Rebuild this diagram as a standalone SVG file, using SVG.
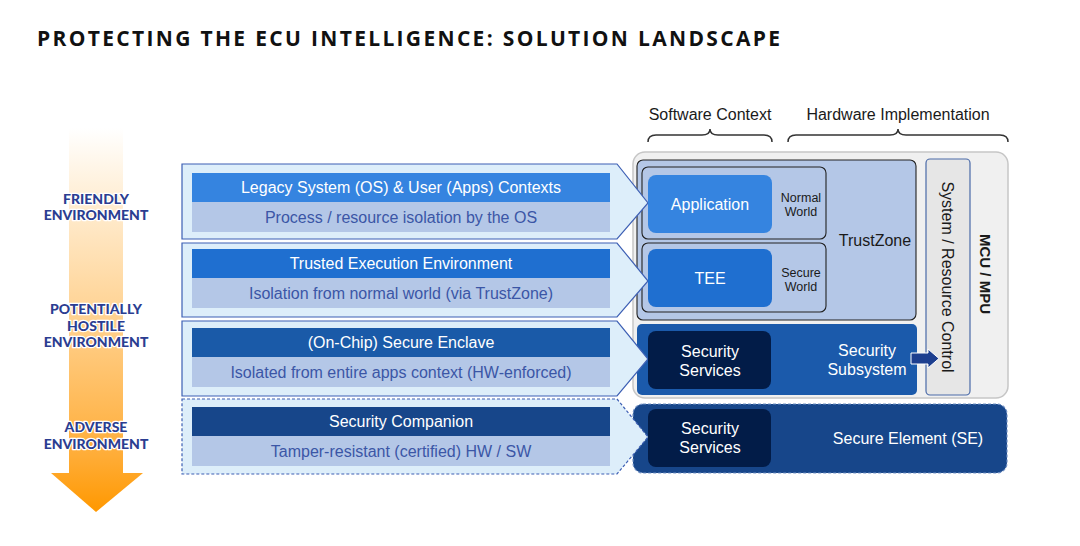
<svg xmlns="http://www.w3.org/2000/svg" width="1080" height="546" viewBox="0 0 1080 546">
<defs>
<linearGradient id="og" gradientUnits="userSpaceOnUse" x1="0" y1="128" x2="0" y2="512">
<stop offset="0" stop-color="#ffffff"/>
<stop offset="0.15" stop-color="#fff1dc"/>
<stop offset="0.5" stop-color="#ffd18f"/>
<stop offset="0.85" stop-color="#ffad38"/>
<stop offset="1" stop-color="#ff9800"/>
</linearGradient>
</defs>
<style>
.t{font-family:"Liberation Sans",Arial,sans-serif}
.env{font-family:Lato,"Open Sans",sans-serif;font-weight:900;font-size:14px;fill:#2b3d91;text-anchor:middle;stroke:#ffffff;stroke-width:2.5px;paint-order:stroke;stroke-linejoin:round}
.call{fill:#ddeefa;stroke:#3d5fb4;stroke-width:1.2}
.dash{stroke-dasharray:3 2}
.sub{fill:#b4c7e7}
.hd{font-size:16px;fill:#ffffff;text-anchor:middle}
.sd{font-size:16px;fill:#3b56a6;text-anchor:middle}
.wt{font-size:16px;fill:#ffffff;text-anchor:middle}
.world{fill:#b4c7e7;stroke:#222222;stroke-width:1.1}
.sm{font-size:12.5px;fill:#1a1a1a;text-anchor:middle}
.dark{fill:#021c48}
.brace{fill:none;stroke:#333333;stroke-width:1.5}
</style>
<text x="37" y="46" textLength="743" lengthAdjust="spacing" style="font-family:'Open Sans','DejaVu Sans',sans-serif;font-weight:bold;font-size:21px;fill:#111111">PROTECTING THE ECU INTELLIGENCE: SOLUTION LANDSCAPE</text>

<g id="env-arrow">
<rect x="69" y="128" width="54" height="346" fill="url(#og)"/>
<polygon points="51,473 143,473 96,512" fill="url(#og)"/>
<text class="env" x="96" y="204">FRIENDLY</text>
<text class="env" x="96" y="220">ENVIRONMENT</text>
<text class="env" x="96" y="314">POTENTIALLY</text>
<text class="env" x="96" y="331">HOSTILE</text>
<text class="env" x="96" y="347">ENVIRONMENT</text>
<text class="env" x="96" y="432">ADVERSE</text>
<text class="env" x="96" y="449">ENVIRONMENT</text>
</g>

<g id="sw-brace">
<text class="t" x="710" y="120" style="font-size:16px;fill:#1a1a1a;text-anchor:middle">Software Context</text>
<path class="brace" d="M648,142 Q648,135 656,135 H702 Q710,135 710,129 Q710,135 718,135 H764 Q772,135 772,142"/>
</g>
<g id="hw-brace">
<text class="t" x="898" y="120" style="font-size:16px;fill:#1a1a1a;text-anchor:middle">Hardware Implementation</text>
<path class="brace" d="M788,142 Q788,135 796,135 H890 Q898,135 898,129 Q898,135 906,135 H1000 Q1008,135 1008,142"/>
</g>

<g id="mcu">
<rect x="633" y="152" width="375" height="246" rx="12" fill="#f0f0f0" stroke="#c6c6c6" stroke-width="1.5"/>
<text class="t" transform="translate(980,274) rotate(90)" style="font-size:15px;font-weight:bold;fill:#1a1a1a;text-anchor:middle">MCU / MPU</text>
</g>

<g id="sysctrl">
<rect x="926" y="159" width="44" height="236" rx="4" fill="#e6e6e6" stroke="#4a6aa8" stroke-width="1.2"/>
<text class="t" transform="translate(942,277) rotate(90)" style="font-size:16px;fill:#1a1a1a;text-anchor:middle">System / Resource Control</text>
</g>

<g id="trustzone">
<rect x="637" y="160" width="279" height="160" rx="6" fill="#b4c7e7" stroke="#222222" stroke-width="1.1"/>
<text class="t" x="875" y="246" style="font-size:16px;fill:#1a1a1a;text-anchor:middle">TrustZone</text>
</g>
<g id="normal-world">
<rect class="world" x="642" y="167" width="184" height="72" rx="6"/>
<text class="t sm" x="801" y="202">Normal</text>
<text class="t sm" x="801" y="216">World</text>
</g>
<g id="secure-world">
<rect class="world" x="642" y="243" width="184" height="69" rx="6"/>
<text class="t sm" x="801" y="277">Secure</text>
<text class="t sm" x="801" y="291">World</text>
</g>

<g id="security-subsystem">
<rect x="637" y="324" width="280" height="71" rx="5" fill="#1b5aab"/>
<text class="t wt" x="867" y="356">Security</text>
<text class="t wt" x="867" y="375">Subsystem</text>
</g>

<g id="secure-element">
<rect x="633" y="404" width="374" height="69" rx="10" fill="#17468a" stroke="#6f8fc4" stroke-width="1.2" stroke-dasharray="3 2"/>
<text class="t wt" x="908" y="444">Secure Element (SE)</text>
</g>

<g id="callout-legacy">
<path class="call" d="M182,164 H617 L648,203 L617,239 H182 Z"/>
<rect x="192" y="173" width="418" height="29" fill="#3584e0"/>
<rect class="sub" x="192" y="202" width="418" height="30"/>
<text class="t hd" x="401" y="193">Legacy System (OS) &amp; User (Apps) Contexts</text>
<text class="t sd" x="401" y="223">Process / resource isolation by the OS</text>
</g>
<g id="callout-tee">
<path class="call" d="M182,243 H617 L648,281 L617,317 H182 Z"/>
<rect x="192" y="249" width="418" height="29" fill="#1f6fd0"/>
<rect class="sub" x="192" y="278" width="418" height="30"/>
<text class="t hd" x="401" y="269">Trusted Execution Environment</text>
<text class="t sd" x="401" y="299">Isolation from normal world (via TrustZone)</text>
</g>
<g id="callout-enclave">
<path class="call" d="M182,321 H617 L648,359 L617,396 H182 Z"/>
<rect x="192" y="328" width="418" height="29" fill="#1a5aa8"/>
<rect class="sub" x="192" y="357" width="418" height="30"/>
<text class="t hd" x="401" y="348">(On-Chip) Secure Enclave</text>
<text class="t sd" x="401" y="378">Isolated from entire apps context (HW-enforced)</text>
</g>
<g id="callout-companion">
<path class="call dash" d="M182,399 H617 L648,437 L617,474 H182 Z"/>
<rect x="192" y="407" width="418" height="29" fill="#17468a"/>
<rect class="sub" x="192" y="436" width="418" height="30"/>
<text class="t hd" x="401" y="427">Security Companion</text>
<text class="t sd" x="401" y="457">Tamper-resistant (certified) HW / SW</text>
</g>

<g id="application">
<rect x="648" y="175" width="124" height="58" rx="8" fill="#3584e0"/>
<text class="t wt" x="710" y="210">Application</text>
</g>
<g id="tee">
<rect x="648" y="249" width="124" height="58" rx="8" fill="#1f6fd0"/>
<text class="t wt" x="710" y="284">TEE</text>
</g>
<g id="security-services-1">
<rect class="dark" x="648" y="331" width="123" height="58" rx="8"/>
<text class="t wt" x="710" y="357">Security</text>
<text class="t wt" x="710" y="376">Services</text>
</g>
<g id="security-services-2">
<rect class="dark" x="648" y="409" width="123" height="58" rx="8"/>
<text class="t wt" x="710" y="434">Security</text>
<text class="t wt" x="710" y="453">Services</text>
</g>

<g id="connectors">
<polygon points="911,353 928,353 928,349 939,358.5 928,368 928,364 911,364" fill="#1d3f8f" stroke="#ffffff" stroke-width="1"/>
</g>
</svg>
